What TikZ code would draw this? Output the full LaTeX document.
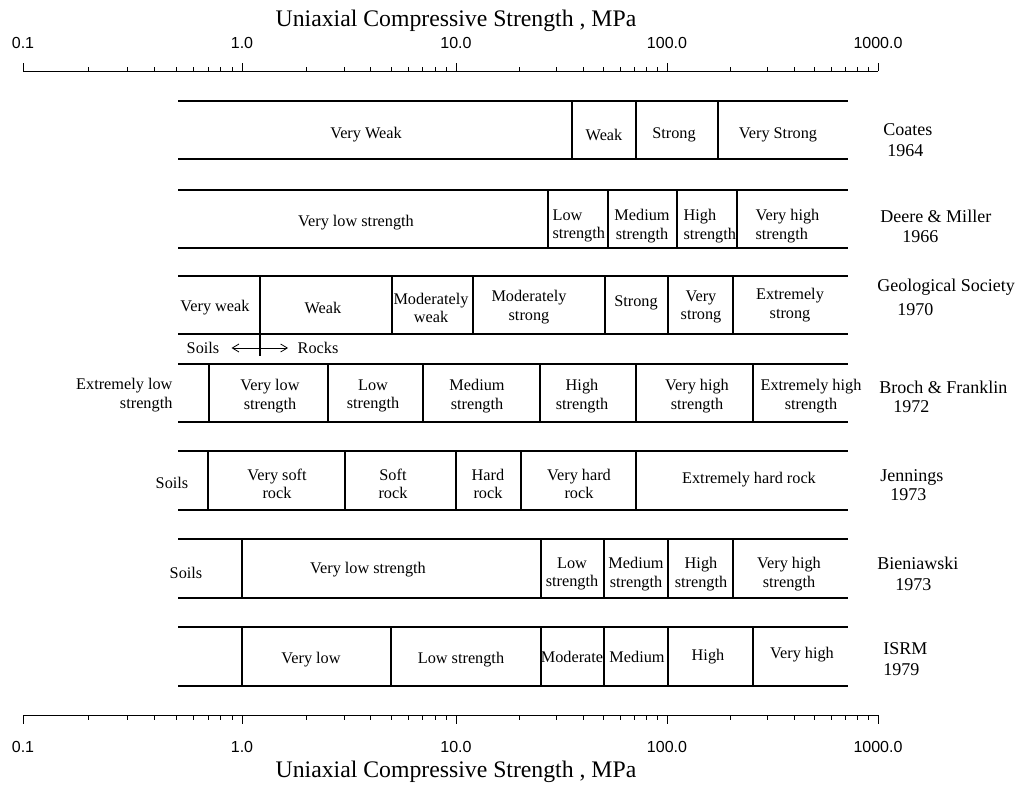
\documentclass[tikz,border=0pt]{standalone}
\usepackage{fontspec}
\setmainfont{Liberation Serif}
\newfontfamily\axisfont{Liberation Sans}
\usepackage{tikz}
\usetikzlibrary{arrows.meta}
\tikzset{
	rowline/.style={line width=0.9pt},
	axisline/.style={line width=0.7pt},
	cell/.style={font=\fontsize{12.2}{14}\selectfont, align=center, inner sep=1pt},
	source/.style={font=\fontsize{13.5}{15.5}\selectfont, anchor=west, inner sep=0pt},
	ticklabel/.style={font=\axisfont\fontsize{12}{13}\selectfont, inner sep=0pt},
	axistitle/.style={font=\fontsize{17.8}{19}\selectfont, inner sep=0pt},
	barb/.style={{Straight Barb[length=5pt,width=6pt]}-{Straight Barb[length=5pt,width=6pt]}},
}
% one band of a classification: top, bottom, dividers
\newcommand{\rowbars}[3]{%
	\draw[rowline] (178,#1) -- (848,#1) (178,#2) -- (848,#2);
	\foreach \x in {#3} \draw[rowline] (\x,#1) -- (\x,#2);
}

\begin{document}
\begin{tikzpicture}[x=0.75pt, y=-0.75pt]
	\useasboundingbox (0,0) rectangle (1028,785);

	% top scale
	\draw[axisline] (23,71) -- (878,71);
	\foreach \a/\b in {23/242,242/456,456/667,667/878}
	\foreach \m in {2,...,9}
		\draw[axisline] ({\a+(\b-\a)*log10(\m)},71) -- ++(0,-4);
	\foreach \x/\v [count=\i] in {23/0.1,242/1.0,456/10.0,667/100.0,878/1000.0}{
		\draw[axisline] (\x,71) -- ++(0,-8);
		\node[ticklabel] (tt\i) at (\x,43) {\v};
	}
	\node[axistitle] (toptitle) at (456,21) {Uniaxial Compressive Strength , MPa};

	% bottom scale
	\draw[axisline] (23,715) -- (878,715);
	\foreach \a/\b in {23/242,242/456,456/667,667/878}
	\foreach \m in {2,...,9}
		\draw[axisline] ({\a+(\b-\a)*log10(\m)},715) -- ++(0,5);
	\foreach \x/\v [count=\i] in {23/0.1,242/1.0,456/10.0,667/100.0,878/1000.0}{
		\draw[axisline] (\x,715) -- ++(0,9);
		\node[ticklabel] (bt\i) at (\x,747) {\v};
	}
	\node[axistitle] (bottomtitle) at (456,772) {Uniaxial Compressive Strength , MPa};

	% Coates 1964
	\rowbars{101}{159}{572,636,718}
	\node[cell] (cvweak) at (366,135) {Very Weak};
	\node[cell] (cweak) at (604,135) {Weak};
	\node[cell] (cstrong) at (674,135) {Strong};
	\node[cell] (cvstrong) at (778,135) {Very Strong};

	% Deere & Miller 1966
	\rowbars{190}{248}{548,608,677,737}
	\node[cell] (dvlow) at (356,223) {Very low strength};
	\node[cell, align=left, anchor=west] (dlow) at (551,226) {Low\\strength};
	\node[cell] (dmed) at (642,226) {Medium\\strength};
	\node[cell, align=left, anchor=west] (dhigh) at (682,226) {High\\strength};
	\node[cell, align=left, anchor=west] (dvhigh) at (754,226) {Very high\\strength};

	% Geological Society 1970
	\rowbars{276}{334}{392,473,605,668,733}
	\draw[rowline] (260,276) -- (260,356);
	\node[cell] (gvweak) at (215,308) {Very weak};
	\node[cell] (gweak) at (323,308) {Weak};
	\node[cell] (gmweak) at (431,308) {Moderately\\weak};
	\node[cell] (gmstrong) at (529,307) {Moderately\\strong};
	\node[cell] (gstrong) at (636,303) {Strong};
	\node[cell] (gvstrong) at (701,307) {Very\\strong};
	\node[cell] (gestrong) at (790,305) {Extremely\\strong};
	\node[cell] (soils) at (203,348) {Soils};
	\node[cell] (rocks) at (318,348) {Rocks};
	\draw[barb, line width=0.6pt, shorten <=8pt, shorten >=6pt] (soils) -- (rocks);

	% Broch & Franklin 1972
	\rowbars{364}{422}{209,328,423,540,636,753}
	\node[cell, align=right, anchor=east] (fxlow) at (174,395) {Extremely low\\strength};
	\node[cell] (fvlow) at (270,396) {Very low\\strength};
	\node[cell] (flow) at (373,396) {Low\\strength};
	\node[cell] (fmed) at (477,396) {Medium\\strength};
	\node[cell] (fhigh) at (582,396) {High\\strength};
	\node[cell] (fvhigh) at (697,396) {Very high\\strength};
	\node[cell] (fxhigh) at (811,396) {Extremely high\\strength};

	% Jennings 1973
	\rowbars{451}{510}{208,345,456,521,636}
	\node[cell] (jsoils) at (172,483) {Soils};
	\node[cell] (jvsoft) at (277,484) {Very soft\\rock};
	\node[cell] (jsoft) at (393,484) {Soft\\rock};
	\node[cell] (jhard) at (488,484) {Hard\\rock};
	\node[cell] (jvhard) at (579,484) {Very hard\\rock};
	\node[cell] (jxhard) at (749,480) {Extremely hard rock};

	% Bieniawski 1973
	\rowbars{539}{598}{242,541,604,668,733}
	\node[cell] (bsoils) at (186,573) {Soils};
	\node[cell] (bvlow) at (368,570) {Very low strength};
	\node[cell] (blow) at (572,574) {Low\\strength};
	\node[cell] (bmed) at (636,574) {Medium\\strength};
	\node[cell] (bhigh) at (701,574) {High\\strength};
	\node[cell] (bvhigh) at (789,574) {Very high\\strength};

	% ISRM 1979
	\rowbars{627}{686}{242,391,541,604,668,753}
	\node[cell] (ivlow) at (311,660) {Very low};
	\node[cell] (ilow) at (461,660) {Low strength};
	\node[cell] (imod) at (572,657) {Moderate};
	\node[cell] (imed) at (637,657) {Medium};
	\node[cell] (ihigh) at (708,657) {High};
	\node[cell] (ivhigh) at (802,655) {Very high};

	% sources
	\foreach \nx/\ny/\nm/\yx/\yy/\yr [count=\i] in {
		883/130/Coates/887/151/1964,
		880/216/Deere \& Miller/902/237/1966,
		877/287/Geological Society/897/310/1970,
		879/387/Broch \& Franklin/893/407/1972,
		880/477/Jennings/890/495/1973,
		877/563/Bieniawski/895/585/1973,
		883/649/ISRM/883/670/1979}{
		\node[source] (src\i) at (\nx,\ny) {\nm};
		\node[source] (yr\i) at (\yx,\yy) {\yr};
	}
\end{tikzpicture}
\end{document}
